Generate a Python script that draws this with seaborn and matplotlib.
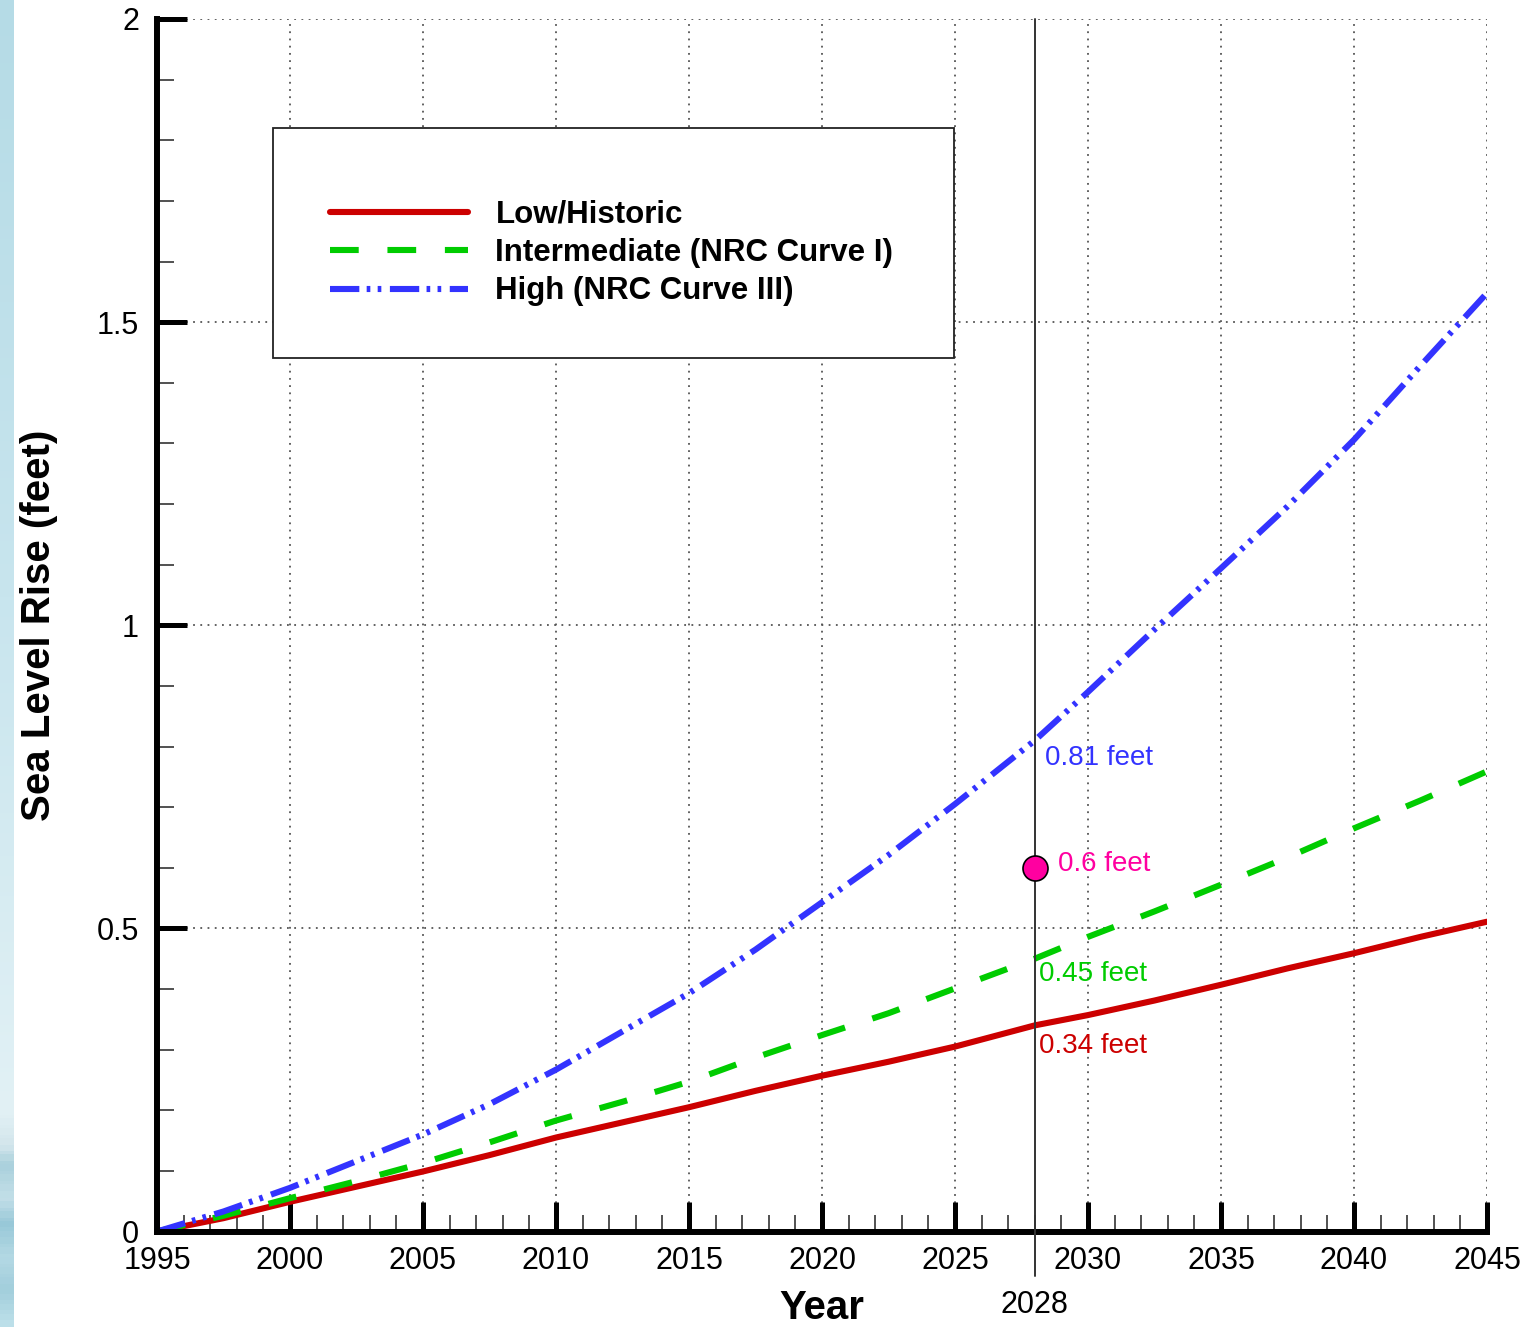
import numpy as np
import pandas as pd
import matplotlib
matplotlib.use("Agg")
import matplotlib.pyplot as plt
from matplotlib.patches import Rectangle
from matplotlib.colors import LinearSegmentedColormap
from matplotlib.ticker import MultipleLocator, FuncFormatter
import seaborn as sns

# ---- data -------------------------------------------------------------
years = [1995, 1997.5, 2000, 2002.5, 2005, 2007.5, 2010, 2012.5, 2015, 2017.5,
         2020, 2022.5, 2025, 2028, 2030, 2032.5, 2035, 2037.5, 2040, 2042.5, 2045]
low_historic = [0.0, 0.022, 0.049, 0.074, 0.099, 0.126, 0.155, 0.180, 0.205, 0.232,
                0.257, 0.280, 0.305, 0.34, 0.357, 0.381, 0.407, 0.434, 0.459, 0.486, 0.511]
intermediate = [0.0, 0.026, 0.055, 0.083, 0.113, 0.147, 0.183, 0.214, 0.247, 0.287,
                0.324, 0.360, 0.401, 0.45, 0.486, 0.528, 0.572, 0.617, 0.665, 0.711, 0.759]
high = [0.0, 0.033, 0.072, 0.116, 0.160, 0.210, 0.267, 0.330, 0.393, 0.465,
        0.543, 0.621, 0.705, 0.81, 0.890, 0.993, 1.094, 1.196, 1.306, 1.428, 1.548]

series_names = ["Low/Historic", "Intermediate (NRC Curve I)", "High (NRC Curve III)"]
target_year = 2028
target_rise = 0.6
x_ticks = [1995, 2000, 2005, 2010, 2015, 2020, 2025, 2030, 2035, 2040, 2045]
y_ticks = [0, 0.5, 1, 1.5, 2]

RED, GREEN, BLUE, PINK = "#cc0000", "#00cc00", "#3333ff", "#ff00a0"

df = pd.DataFrame({"year": years, "low": low_historic,
                   "mid": intermediate, "high": high})

# ---- style ------------------------------------------------------------
sns.set_theme(style="white")
plt.rcParams["font.family"] = ["Liberation Sans", "DejaVu Sans"]
plt.rcParams.update({"text.color": "black", "axes.labelcolor": "black",
                     "xtick.color": "black", "ytick.color": "black"})

fig = plt.figure(figsize=(15.29, 13.27), dpi=100)
fig.patch.set_facecolor("white")

# decorative pale-blue strip on the left edge
strip = fig.add_axes([0, 0, 14 / 1529, 1])
strip_cmap = LinearSegmentedColormap.from_list(
    "strip",
    [(0.0, "#b5dbe6"), (0.45, "#c8e5ee"), (0.84, "#e2f1f5"), (0.865, "#d3e6ec"),
     (0.88, "#a9d0dc"), (0.905, "#c3dfe8"), (0.925, "#98c8d8"), (0.95, "#b4d9e4"),
     (0.975, "#a2cedc"), (1.0, "#bcdfe9")])
strip.imshow(np.linspace(0, 1, 400).reshape(-1, 1), aspect="auto",
             cmap=strip_cmap, extent=[0, 1, 1, 0])
strip.set_axis_off()

ax = fig.add_axes([157 / 1529, 95.5 / 1327, 1330 / 1529, 1212.5 / 1327])
ax.set_facecolor("white")

# ---- curves -----------------------------------------------------------
sns.lineplot(data=df, x="year", y="low", ax=ax, color=RED, lw=4.4,
             label=series_names[0])
sns.lineplot(data=df, x="year", y="mid", ax=ax, color=GREEN, lw=4.4,
             linestyle=(0, (4.7, 4.7)), label=series_names[1])
sns.lineplot(data=df, x="year", y="high", ax=ax, color=BLUE, lw=4.4,
             linestyle=(0, (4.8, 1.2, 0.6, 1.2, 0.6, 1.4)), label=series_names[2])

# planning year marker line, running just below the axis
ax.axvline(target_year, ymin=-0.037, ymax=1, color="#333333", lw=1.4,
           clip_on=False, zorder=3)
ax.plot([target_year], [target_rise], marker="o", ms=18, mfc=PINK,
        mec="black", mew=1.2, zorder=6)

# value labels at the planning year
ann_kw = dict(textcoords="offset points", ha="left", va="center", fontsize=20)
ax.annotate(f"{high[years.index(target_year)]:g} feet",
            (target_year, high[years.index(target_year)]),
            xytext=(7, -13), color=BLUE, **ann_kw)
ax.annotate(f"{target_rise:g} feet", (target_year, target_rise),
            xytext=(17, 2.5), color=PINK, **ann_kw)
ax.annotate(f"{intermediate[years.index(target_year)]:g} feet",
            (target_year, intermediate[years.index(target_year)]),
            xytext=(3, -11), color=GREEN, **ann_kw)
ax.annotate(f"{low_historic[years.index(target_year)]:g} feet",
            (target_year, low_historic[years.index(target_year)]),
            xytext=(3, -15), color=RED, **ann_kw)
ax.text(target_year, -0.0605, str(target_year), transform=ax.get_xaxis_transform(),
        ha="center", va="center", fontsize=22)

# ---- axes -------------------------------------------------------------
ax.set_xlim(1995, 2045)
ax.set_ylim(0, 2)
ax.set_xticks(x_ticks)
ax.set_yticks(y_ticks)
ax.xaxis.set_minor_locator(MultipleLocator(1))
ax.yaxis.set_minor_locator(MultipleLocator(0.1))
ax.yaxis.set_major_formatter(FuncFormatter(lambda v, p: f"{v:g}"))

ax.tick_params(which="major", direction="in", length=21.6, width=3.6,
               color="black", labelsize=22, labelcolor="black",
               bottom=True, left=True, top=False, right=False)
ax.tick_params(which="minor", direction="in", length=12.5, width=1.2,
               color="#333333", bottom=True, left=True, top=False, right=False)
ax.tick_params(axis="x", which="major", pad=10.5)
ax.tick_params(axis="y", which="major", pad=13)

ax.grid(which="major", linestyle=(0, (1, 3)), color="#555555", lw=1.3)
ax.set_axisbelow(True)

for side in ("top", "right"):
    ax.spines[side].set_visible(False)
for side in ("left", "bottom"):
    ax.spines[side].set_linewidth(4.3)
    ax.spines[side].set_color("black")

ax.set_xlabel("Year", fontsize=29, fontweight="bold")
ax.set_ylabel("Sea Level Rise (feet)", fontsize=29, fontweight="bold")
ax.xaxis.set_label_coords(0.5, -0.0632)
ax.xaxis.label.set_verticalalignment("center")
ax.yaxis.set_label_coords(-0.0890, 0.5)
ax.yaxis.label.set_verticalalignment("center")

# ---- legend -----------------------------------------------------------
ax.add_patch(Rectangle((0.0872, 0.7207), 0.5120, 0.1898, transform=ax.transAxes,
                       facecolor="white", edgecolor="#222222", lw=1.3, zorder=4))
handles, labels = ax.get_legend_handles_labels()
leg = ax.legend(handles, labels, loc="center left", bbox_to_anchor=(0.1187, 0.807),
                frameon=False, borderpad=0, handlelength=4.4, handletextpad=0.88,
                labelspacing=0.27, prop={"weight": "bold", "size": 22.5})
leg.set_zorder(5)

fig.savefig("out.png", dpi=100, facecolor="white")
